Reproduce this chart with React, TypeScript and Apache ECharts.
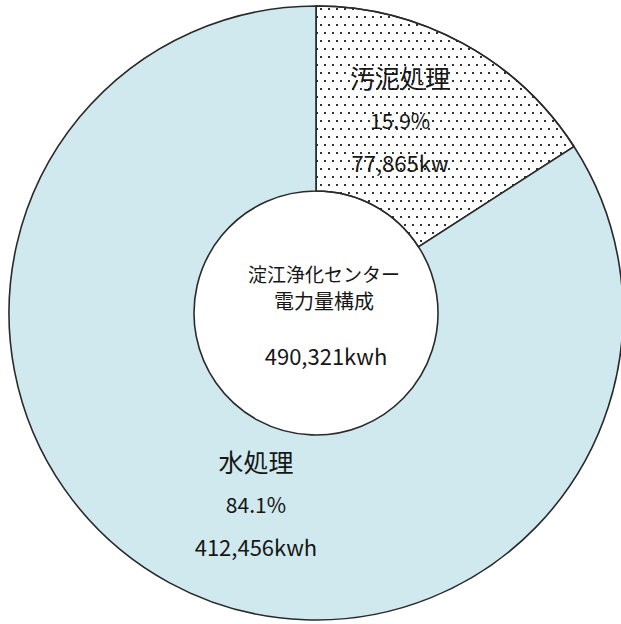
import React, { useEffect, useRef } from "react";
import * as echarts from "echarts";

const categories = ["汚泥処理", "水処理"];
const values = [77865, 412456];
const units = ["kw", "kwh"];
const centerTitle = ["淀江浄化センター", "電力量構成"];
const totalUnit = "kwh";

const fmt = (n: number) => n.toLocaleString("en-US");

export default function App() {
  const ref = useRef<HTMLDivElement>(null);
  useEffect(() => {
    if (!ref.current) return;
    const chart = echarts.init(ref.current, null, { renderer: "svg" });
    const total = values.reduce((a, b) => a + b, 0);
    const font = '"Noto Sans CJK JP", "Noto Sans", sans-serif';
    const labelOffsets = [
      [-20, -3],
      [44, -1],
    ];
    const fills = ["#ffffff", "#d0e9ef"];
    const ink = "#161616";
    chart.setOption({
      animation: false,
      backgroundColor: "#ffffff",
      series: [
        {
          type: "pie",
          center: [316, 313],
          radius: [122, 307],
          startAngle: 90,
          clockwise: true,
          avoidLabelOverlap: false,
          silent: true,
          itemStyle: { borderColor: "#2a2a2a", borderWidth: 1.6 },
          label: {
            show: true,
            position: "inside",
            fontFamily: font,
            color: ink,
            formatter: (p: any) =>
              `{n|${p.name}}\n{p|${p.percent.toFixed(1)}%}\n{v|${fmt(p.value)}${units[p.dataIndex]}}`,
            rich: {
              n: { fontSize: 25, lineHeight: 44, fontFamily: font, color: ink },
              p: { fontSize: 21, lineHeight: 42, fontFamily: font, color: ink },
              v: { fontSize: 22, lineHeight: 42, fontFamily: font, color: ink },
            },
          },
          labelLine: { show: false },
          data: categories.map((c, i) => ({
            name: c,
            value: values[i],
            label: { offset: labelOffsets[i] },
            itemStyle:
              i === 0
                ? {
                    color: fills[i],
                    decal: {
                      symbol: "rect",
                      symbolSize: 1,
                      color: "#333",
                      dashArrayX: [
                        [2, 6],
                        [0, 4, 2, 2],
                      ],
                      dashArrayY: [2, 6],
                    },
                  }
                : { color: fills[i] },
          })),
        },
      ],
      graphic: [
        {
          type: "text",
          x: 324,
          y: 273,
          style: {
            text: centerTitle[0],
            font: `19px ${font}`,
            fill: ink,
            align: "center",
            verticalAlign: "middle",
          },
        },
        {
          type: "text",
          x: 324,
          y: 300,
          style: {
            text: centerTitle[1],
            font: `20px ${font}`,
            fill: ink,
            align: "center",
            verticalAlign: "middle",
          },
        },
        {
          type: "text",
          x: 326,
          y: 355,
          style: {
            text: `${fmt(total)}${totalUnit}`,
            font: `22px ${font}`,
            fill: ink,
            align: "center",
            verticalAlign: "middle",
          },
        },
      ],
    });
    return () => chart.dispose();
  }, []);
  return (
    <div
      ref={ref}
      style={{ position: "absolute", left: 0, top: 0, width: 621, height: 624 }}
    />
  );
}
